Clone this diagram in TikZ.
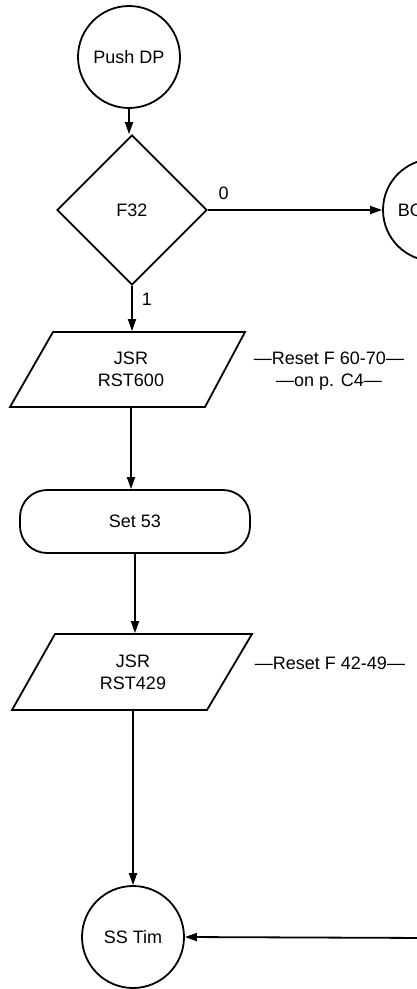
\documentclass[tikz,border=0pt]{standalone}
\usepackage{fontspec}
\setmainfont{Liberation Sans}
\usetikzlibrary{shapes.geometric,arrows.meta,calc}
\begin{document}
\begin{tikzpicture}[x=1pt,y=-1pt,line width=1.8pt,
  every node/.style={font=\fontsize{18}{22}\selectfont},
  arr/.style={-{Triangle[length=12pt,width=8pt]}},
  conn/.style={draw,circle,minimum size=102pt,inner sep=0pt},
  decis/.style={draw,diamond,minimum width=150pt,minimum height=150pt,inner sep=0pt},
  procbox/.style={minimum width=150pt,inner sep=0pt,align=center},
  termbox/.style={draw,rounded corners=27pt,minimum width=230pt,minimum height=63pt,inner sep=0pt},
  note/.style={align=center},
  lbl/.style={inner sep=0pt}]
\useasboundingbox (0,0) rectangle (417,989);
\clip (0,0) rectangle (417,989);

\node[conn] (push) at (129,57) {Push DP};
\node[decis] (dia) at (132,210) {F32};
\node[conn] (bo) at (434,210) {};
\node[lbl,anchor=west] (botext) at (397,210) {BO};

\draw (53,332) -- (245,332) -- (205,407) -- (10,407) -- cycle;
\node[procbox,minimum height=75pt] (p1) at (131,369.5) {JSR\\RST600};
\node[note] (n1) at (329,371) {—Reset F 60-70—\\—on p. C4—};

\node[termbox] (set) at (135,521.5) {Set 53};

\draw (55,634) -- (252,634) -- (207,710) -- (12,710) -- cycle;
\node[procbox,minimum height=76pt] (p2) at (133,672) {JSR\\RST429};
\node[note] (n2) at (330,663) {—Reset F 42-49—};

\node[conn] (sst) at (133,937) {SS Tim};
\coordinate (inR) at (430,938);

\draw[arr] (push.south) -- (push.south |- dia.north);
\draw[arr] (dia.east) -- (bo.west) node[lbl,pos=0.09,above=9pt] (l0) {0};
\draw[arr] (dia.south) -- (dia.south |- p1.north) node[lbl,pos=0.3,right=9pt] (l1) {1};
\draw[arr] (p1.south) -- (p1.south |- set.north);
\draw[arr] (set.south) -- (set.south |- p2.north);
\draw[arr] (p2.south) -- (p2.south |- sst.north);
\draw[arr] (inR) -- (sst.east);
\end{tikzpicture}
\end{document}
